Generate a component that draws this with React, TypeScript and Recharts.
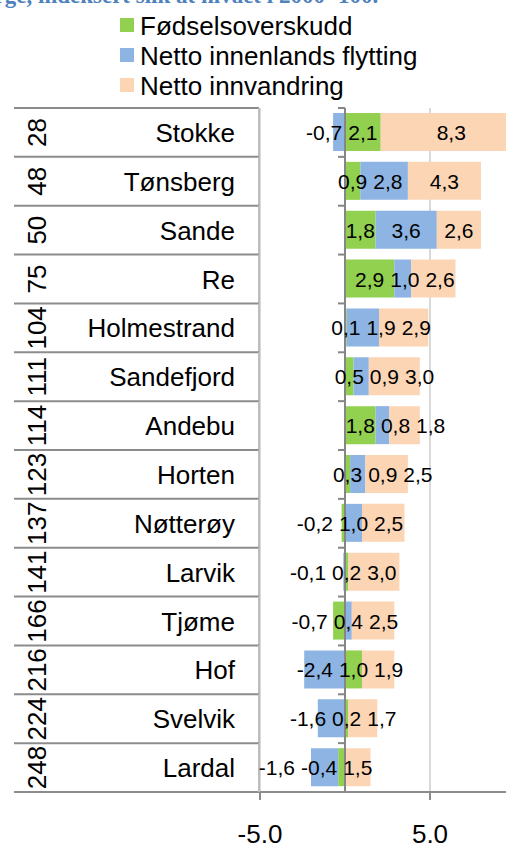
import React from 'react'
import {
  BarChart, Bar, XAxis, YAxis, CartesianGrid, ReferenceLine, LabelList, Legend,
} from 'recharts'

// Befolkningsvekst i Vestfold-kommunene, rangert
const ranks = [28, 48, 50, 75, 104, 111, 114, 123, 137, 141, 166, 216, 224, 248]
const kommuner = [
  'Stokke', 'Tønsberg', 'Sande', 'Re', 'Holmestrand', 'Sandefjord', 'Andebu',
  'Horten', 'Nøtterøy', 'Larvik', 'Tjøme', 'Hof', 'Svelvik', 'Lardal',
]
const fodselsoverskudd = [2.1, 0.9, 1.8, 2.9, 0.1, 0.5, 1.8, 0.3, -0.2, 0.2, -0.7, 1.0, 0.2, -0.4]
const innenlandsFlytting = [-0.7, 2.8, 3.6, 1.0, 1.9, 0.9, 0.8, 0.9, 1.0, -0.1, 0.4, -2.4, -1.6, -1.6]
const nettoInnvandring = [8.3, 4.3, 2.6, 2.6, 2.9, 3.0, 1.8, 2.5, 2.5, 3.0, 2.5, 1.9, 1.7, 1.5]
const xTicks = [-5, 5, 15]

const SERIES = [
  { key: 'fodsel', name: 'Fødselsoverskudd', color: '#92D050', values: fodselsoverskudd },
  { key: 'innenlands', name: 'Netto innenlands flytting', color: '#8DB4E2', values: innenlandsFlytting },
  { key: 'innvandring', name: 'Netto innvandring', color: '#FCD5B4', values: nettoInnvandring },
]

const rows = kommuner.map((name, i) => ({
  name,
  fodsel: fodselsoverskudd[i],
  innenlands: innenlandsFlytting[i],
  innvandring: nettoInnvandring[i],
}))

const FONT = '"Liberation Sans", Arial, sans-serif'
const LINE = '#8c8c8c'
const LABEL_FS = 21
const GAP = 6

const CHART_W = 620
const CHART_H = 843
const PLOT_LEFT = 260
const PLOT_TOP = 108
const PLOT_BOTTOM = 792
const ROW = (PLOT_BOTTOM - PLOT_TOP) / kommuner.length
const ZERO_X = PLOT_LEFT + 5 * ((CHART_W - 20 - PLOT_LEFT) / 20)

const fmt = (v: number) => v.toFixed(1).replace('.', ',')

function textW(s: string, fs: number) {
  let w = 0
  for (const c of s) w += c === ',' ? 0.278 : c === '-' ? 0.333 : 0.556
  return w * fs
}

// stacked segments (sign offset) in value units
function segments(i: number) {
  let pos = 0
  let neg = 0
  return SERIES.map((s) => {
    const v = s.values[i]
    let a: number, b: number
    if (v >= 0) { a = pos; b = pos + v; pos = b } else { a = neg; b = neg + v; neg = b }
    return { v, mid: (a + b) / 2 }
  })
}

// spread labels in a row so they don't overlap
function labelCenters(i: number, zeroPx: number, ppu: number) {
  const segs = segments(i).map((s, k) => ({
    k, v: s.v, c: zeroPx + s.mid * ppu, w: textW(fmt(s.v), LABEL_FS),
  }))
  const out: number[] = []
  const positives = segs.filter((s) => s.v >= 0).sort((p, q) => p.c - q.c)
  const negatives = segs.filter((s) => s.v < 0).sort((p, q) => q.c - p.c)
  let right = -Infinity
  let firstLeft = Infinity
  positives.forEach((s, j) => {
    const left = Math.max(s.c - s.w / 2, right + GAP)
    if (j === 0) firstLeft = left
    right = left + s.w
    out[s.k] = left + s.w / 2
  })
  let left = firstLeft
  negatives.forEach((s) => {
    const r = Math.min(s.c + s.w / 2, left - GAP)
    left = r - s.w
    out[s.k] = r - s.w / 2
  })
  return out
}

const makeLabel = (k: number) => (props: any) => {
  const { x, y, width, height, index } = props
  const v = SERIES[k].values[index]
  const segs = segments(index)
  const ppu = Math.abs(Number(width) / v)
  const cxOwn = Number(x) + Number(width) / 2
  const zeroPx = cxOwn - segs[k].mid * ppu
  const cx = labelCenters(index, zeroPx, ppu)[k]
  return (
    <text x={cx} y={Number(y) + Number(height) / 2} dy="0.38em" textAnchor="middle"
      fontSize={LABEL_FS} fontFamily={FONT} fill="#000">
      {fmt(v)}
    </text>
  )
}

function TableTick(props: any) {
  const { y, payload } = props
  const i = payload?.index ?? kommuner.indexOf(payload?.value)
  const top = y - ROW / 2
  const bot = y + ROW / 2
  const last = i === kommuner.length - 1
  return (
    <g>
      <line x1={14} x2={259} y1={top} y2={top} stroke={LINE} strokeWidth={2} />
      {last && <line x1={14} x2={259} y1={bot} y2={bot} stroke={LINE} strokeWidth={2} />}
      <line x1={259} x2={259} y1={top} y2={bot} stroke="#bdbdbd" strokeWidth={2} />
      <line x1={ZERO_X - 7} x2={ZERO_X} y1={top} y2={top} stroke="#868686" strokeWidth={2} />
      <text x={37} y={y} dy="0.36em" textAnchor="middle" transform={`rotate(-90 37 ${y})`}
        fontSize={26} fontFamily={FONT} fill="#000">
        {ranks[i]}
      </text>
      <text x={235} y={y} dy="0.37em" textAnchor="end" fontSize={26} fontFamily={FONT} fill="#000">
        {kommuner[i]}
      </text>
    </g>
  )
}

function LegendBox() {
  return (
    <svg width={380} height={100}>
      {SERIES.map((s, i) => (
        <g key={s.key}>
          <rect x={0} y={18 + i * 30} width={14} height={14} fill={s.color} />
          <text x={20} y={35 + i * 30} fontSize={26} fontFamily={FONT} fill="#000">{s.name}</text>
        </g>
      ))}
    </svg>
  )
}

export default function App() {
  return (
    <div style={{ position: 'absolute', left: 0, top: 0, width: 506, height: 843, overflow: 'hidden', background: '#fff' }}>
      <div style={{
        position: 'absolute', top: -15.7, left: -33.5, whiteSpace: 'nowrap',
        font: 'bold 23px/23px "Liberation Serif", serif', color: '#4F81BD',
      }}>
        Norge, indeksert slik at nivået i 2000=100.
      </div>
      <BarChart
        width={CHART_W}
        height={CHART_H}
        data={rows}
        layout="vertical"
        stackOffset="sign"
        barSize={38}
        margin={{ top: PLOT_TOP, right: 20, bottom: 0, left: 0 }}
      >
        <CartesianGrid horizontal={false} stroke="#d9d9d9" strokeWidth={2} />
        <XAxis
          type="number"
          domain={[-5, 15]}
          ticks={xTicks}
          height={CHART_H - PLOT_BOTTOM}
          tickFormatter={fmt}
          tickSize={8}
          tickMargin={25}
          axisLine={{ stroke: LINE, strokeWidth: 2 }}
          tickLine={{ stroke: LINE, strokeWidth: 2 }}
          tick={{ fontSize: 26, fill: '#000', fontFamily: FONT }}
        />
        <YAxis
          type="category"
          dataKey="name"
          width={PLOT_LEFT}
          interval={0}
          axisLine={false}
          tickLine={false}
          tick={<TableTick />}
        />
        <Legend
          layout="horizontal"
          verticalAlign="middle"
          align="center"
          wrapperStyle={{ top: 0, left: 120, width: 380, height: 100 }}
          content={() => <LegendBox />}
        />
        {SERIES.map((s, k) => (
          <Bar key={s.key} dataKey={s.key} name={s.name} stackId="a" fill={s.color} isAnimationActive={false}>
            <LabelList dataKey={s.key} content={makeLabel(k)} />
          </Bar>
        ))}
        <ReferenceLine x={0} stroke="#868686" strokeWidth={2} />
      </BarChart>
    </div>
  )
}
